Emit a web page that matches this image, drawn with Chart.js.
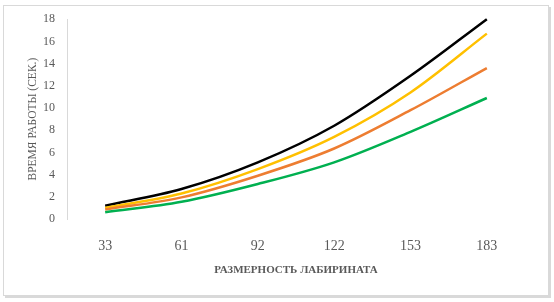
<!DOCTYPE html>
<html>
<head>
<meta charset="utf-8">
<script src="https://cdn.jsdelivr.net/npm/chart.js@4"></script>
<style>
  html, body { margin: 0; padding: 0; background: #fff; }
  #wrap { position: relative; width: 554px; height: 302px; }
  #frame {
    position: absolute; left: 3px; top: 5px; width: 544px; height: 289px;
    border: 1px solid #d9d9d9; box-shadow: 2px 2px 0 #d9d9d9;
  }
  #chart { position: absolute; left: 0; top: 0; }
</style>
</head>
<body>
<div id="wrap">
  <div id="frame"></div>
  <canvas id="chart" width="554" height="302"></canvas>
</div>
<script>
const sizes = ['33', '61', '92', '122', '153', '183'];

const seriesBlack  = [1.2, 2.7, 5.1, 8.4, 12.9, 18.0];
const seriesYellow = [1.0, 2.3, 4.5, 7.4, 11.4, 16.7];
const seriesOrange = [0.85, 1.95, 3.9, 6.35, 9.8, 13.6];
const seriesGreen  = [0.6, 1.55, 3.15, 5.1, 7.85, 10.9];

const textColor = '#595959';

function line(label, data, color) {
    return {
        label: label,
        data: data,
        borderColor: color,
        backgroundColor: color,
        borderWidth: 2.5,
        pointRadius: 0,
        cubicInterpolationMode: 'monotone',
        fill: false,
        clip: 4
    };
}

const ctx = document.getElementById('chart').getContext('2d');
new Chart(ctx, {
    type: 'line',
    data: {
        labels: sizes,
        datasets: [
            line('Ряд1', seriesGreen, '#00b050'),
            line('Ряд2', seriesOrange, '#ed7d31'),
            line('Ряд3', seriesYellow, '#ffc000'),
            line('Ряд4', seriesBlack, '#000000')
        ]
    },
    options: {
        responsive: false,
        animation: false,
        layout: { padding: { left: 0, top: 15, right: 29, bottom: 0 } },
        plugins: {
            legend: { display: false },
            tooltip: { enabled: false }
        },
        scales: {
            x: {
                offset: true,
                grid: { display: false },
                border: { display: false },
                ticks: {
                    color: textColor,
                    padding: 11,
                    font: { family: "'Liberation Serif', serif", size: 14 }
                },
                title: {
                    display: true,
                    text: 'РАЗМЕРНОСТЬ ЛАБИРИНАТА',
                    color: textColor,
                    padding: { top: 0, bottom: 25 },
                    font: { family: "'Liberation Serif', serif", size: 11, weight: 'bold' }
                },
                afterFit: function (scale) { scale.height = 83; }
            },
            y: {
                min: 0,
                max: 18,
                grid: { display: false, drawTicks: false },
                border: { display: true, color: '#d9d9d9', width: 1 },
                ticks: {
                    stepSize: 2,
                    color: textColor,
                    padding: 12,
                    font: { family: "'Liberation Serif', serif", size: 12 }
                },
                title: {
                    display: true,
                    text: 'ВРЕМЯ РАБОТЫ (СЕК.)',
                    color: textColor,
                    padding: { top: 26, bottom: 0 },
                    font: { family: "'Liberation Serif', serif", size: 11.5 }
                },
                afterFit: function (scale) { scale.width = 67; }
            }
        }
    }
});
</script>
</body>
</html>
